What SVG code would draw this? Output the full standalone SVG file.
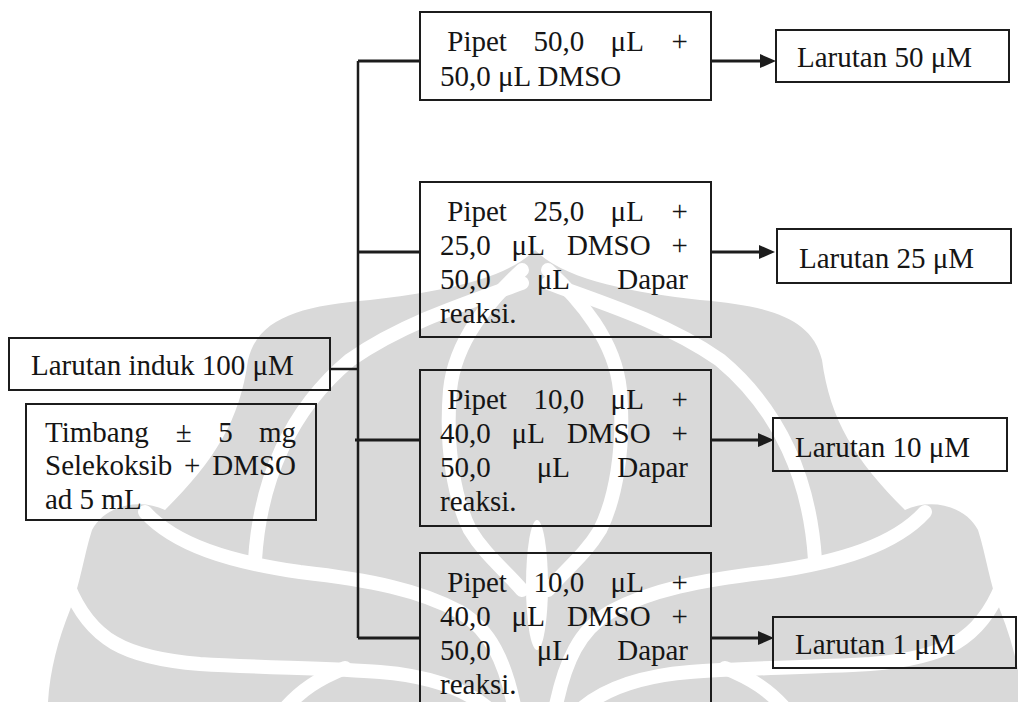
<svg xmlns="http://www.w3.org/2000/svg" width="1018" height="702" viewBox="0 0 1018 702">
<style>
.box{fill:none;stroke:#1c1c1c;stroke-width:2}
.t{font-family:"Liberation Serif","Times New Roman",serif;font-size:29px;fill:#151515}
.conn{fill:none;stroke:#1c1c1c;stroke-width:2.5}
.arr{fill:none;stroke:#1c1c1c;stroke-width:3}
.head{fill:#1c1c1c}
.wm{fill:#d9d9d9}
.band{fill:none;stroke:#ffffff;stroke-linecap:round;stroke-width:14}
</style>
<defs>
<g id="half">
<path class="wm" d="M535,250 C505,280 440,292 370,300 C300,306 258,318 248,360 C240,420 215,460 165,510 C140,498 105,505 92,530 C84,555 80,585 70,610 C58,640 50,670 48,702 L535,702 Z"/>
<path class="band" d="M68,585 C90,640 125,658 200,664 C270,668 330,668 380,672 C430,676 465,688 490,710"/>
<path class="band" d="M282,712 C300,690 320,678 345,668"/>
<path class="band" d="M145,512 C175,545 230,562 300,572 C370,580 420,590 460,612 C490,630 505,660 515,710"/>
<path class="band" d="M255,560 C260,480 290,410 350,360 C400,325 460,305 522,283"/>
<path class="band" d="M522,270 C490,300 455,340 450,390 C445,450 455,500 470,530 C485,555 505,570 522,590"/>
</g>
</defs>

<g id="watermark">
<use href="#half"/>
<use href="#half" transform="translate(1070,0) scale(-1,1)"/>
<ellipse cx="537" cy="585" rx="11" ry="65" fill="#ffffff"/>
</g>

<g id="connectors">
<path class="conn" d="M358,61 V638"/>
<path class="conn" d="M330,369 H358"/>
<path class="arr" d="M358,61 H420"/>
<path class="arr" d="M358,252 H420"/>
<path class="arr" d="M355,440 H420"/>
<path class="arr" d="M358,638 H420"/>
<path class="arr" d="M711,61 H762"/>
<path class="head" d="M760,54 L776,61 L760,68 Z"/>
<path class="arr" d="M711,252 H761"/>
<path class="head" d="M759,245 L775,252 L759,259 Z"/>
<path class="arr" d="M711,440 H760"/>
<path class="head" d="M758,433 L774,440 L758,447 Z"/>
<path class="arr" d="M711,638 H760"/>
<path class="head" d="M758,631 L774,638 L758,645 Z"/>
</g>

<g id="induk">
<rect class="box" x="9" y="338" width="321" height="52"/>
<text class="t" x="31" y="375">Larutan induk 100 μM</text>
</g>

<g id="timbang">
<rect class="box" x="26" y="404" width="290" height="116"/>
<text class="t" y="441.5"><tspan x="45">Timbang</tspan><tspan x="175.8">±</tspan><tspan x="218.3">5</tspan><tspan x="258.9">mg</tspan></text>
<text class="t" y="475"><tspan x="45">Selekoksib</tspan><tspan x="184">+</tspan><tspan x="212.2">DMSO</tspan></text>
<text class="t" x="45" y="508.5">ad 5 mL</text>
</g>

<g id="pipet50">
<rect class="box" x="420" y="12" width="291" height="88"/>
<text class="t" y="51"><tspan x="447.25">Pipet</tspan><tspan x="533.4">50,0</tspan><tspan x="610.6">μL</tspan><tspan x="671.6">+</tspan></text>
<text class="t" x="440" y="85.5">50,0 μL DMSO</text>
</g>

<g id="pipet25">
<rect class="box" x="420" y="182" width="291" height="155"/>
<text class="t" y="221"><tspan x="447.25">Pipet</tspan><tspan x="533.4">25,0</tspan><tspan x="610.6">μL</tspan><tspan x="671.6">+</tspan></text>
<text class="t" y="255"><tspan x="440">25,0</tspan><tspan x="511.6">μL</tspan><tspan x="566.9">DMSO</tspan><tspan x="671.6">+</tspan></text>
<text class="t" y="289"><tspan x="440">50,0</tspan><tspan x="536.8">μL</tspan><tspan x="617.2">Dapar</tspan></text>
<text class="t" x="440" y="323">reaksi.</text>
</g>

<g id="pipet10a">
<rect class="box" x="420" y="370" width="291" height="156"/>
<text class="t" y="409"><tspan x="447.25">Pipet</tspan><tspan x="533.4">10,0</tspan><tspan x="610.6">μL</tspan><tspan x="671.6">+</tspan></text>
<text class="t" y="443"><tspan x="440">40,0</tspan><tspan x="511.6">μL</tspan><tspan x="566.9">DMSO</tspan><tspan x="671.6">+</tspan></text>
<text class="t" y="477"><tspan x="440">50,0</tspan><tspan x="536.8">μL</tspan><tspan x="617.2">Dapar</tspan></text>
<text class="t" x="440" y="511">reaksi.</text>
</g>

<g id="pipet10b">
<rect class="box" x="420" y="553" width="291" height="170"/>
<text class="t" y="592"><tspan x="447.25">Pipet</tspan><tspan x="533.4">10,0</tspan><tspan x="610.6">μL</tspan><tspan x="671.6">+</tspan></text>
<text class="t" y="626"><tspan x="440">40,0</tspan><tspan x="511.6">μL</tspan><tspan x="566.9">DMSO</tspan><tspan x="671.6">+</tspan></text>
<text class="t" y="660"><tspan x="440">50,0</tspan><tspan x="536.8">μL</tspan><tspan x="617.2">Dapar</tspan></text>
<text class="t" x="440" y="694">reaksi.</text>
</g>

<g id="larutan50">
<rect class="box" x="776" y="30" width="233" height="52"/>
<text class="t" x="797" y="67">Larutan 50 μM</text>
</g>
<g id="larutan25">
<rect class="box" x="777" y="229" width="234" height="54"/>
<text class="t" x="799" y="268">Larutan 25 μM</text>
</g>
<g id="larutan10">
<rect class="box" x="773" y="418" width="234" height="53"/>
<text class="t" x="795" y="457">Larutan 10 μM</text>
</g>
<g id="larutan1">
<rect class="box" x="773" y="617" width="243" height="51"/>
<text class="t" x="795" y="654">Larutan 1 μM</text>
</g>
</svg>
